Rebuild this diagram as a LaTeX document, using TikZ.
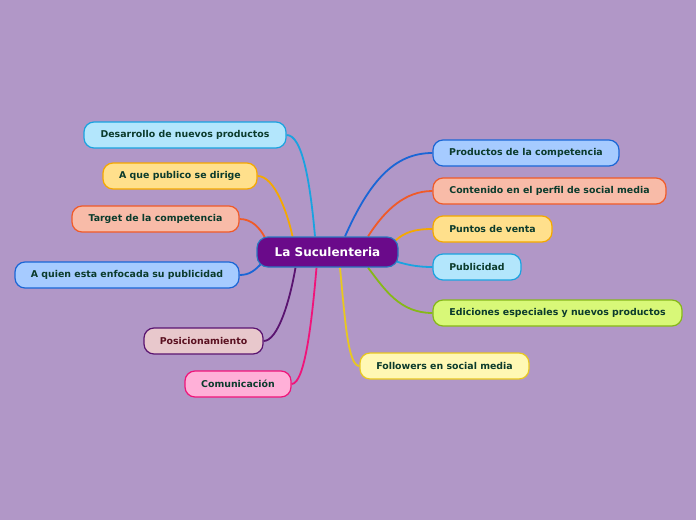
\documentclass[tikz,border=0pt]{standalone}
\usepackage{fontspec}
\setmainfont{DejaVu Sans}
\usetikzlibrary{calc,backgrounds}
\definecolor{bg}{HTML}{B197C7}
\definecolor{txt}{HTML}{0B3B2C}
\definecolor{cyanF}{HTML}{B3E6FC}\definecolor{cyanD}{HTML}{1AA3E0}
\definecolor{orF}{HTML}{FFE08C}\definecolor{orD}{HTML}{F5A800}
\definecolor{redF}{HTML}{F8BBA8}\definecolor{redD}{HTML}{F05A28}
\definecolor{bluF}{HTML}{A6CBFF}\definecolor{bluD}{HTML}{1A66D6}
\definecolor{purF}{HTML}{E8C8CC}\definecolor{purD}{HTML}{5A1470}\definecolor{purT}{HTML}{5A1020}
\definecolor{pnkF}{HTML}{FFB0D8}\definecolor{pnkD}{HTML}{F0147A}
\definecolor{grnF}{HTML}{D8F878}\definecolor{grnD}{HTML}{86B818}
\definecolor{yelF}{HTML}{FFF8B4}\definecolor{yelD}{HTML}{E8C820}
\definecolor{cenF}{HTML}{6A0A8A}\definecolor{cenD}{HTML}{2A78C0}
\tikzset{
  topic/.style={draw=#1D, fill=#1F, line width=1.2pt, rounded corners=10pt,
    minimum height=26pt, inner sep=0pt, text=txt,
    font=\fontsize{9.4}{11}\selectfont\bfseries},
  conn/.style={line width=1.8pt, draw=#1D},
  central/.style={draw=cenD, fill=cenF, line width=1.2pt, rounded corners=11pt,
    minimum width=141pt, minimum height=30pt, inner sep=0pt, text=white,
    font=\fontsize{12}{14}\selectfont\bfseries}
}
\begin{document}
\begin{tikzpicture}[x=1pt,y=-1pt]
\useasboundingbox (0,0) rectangle (696,520);
% central
\node[central] (c) at (327.5,252) {La Suculenteria};
% left
\node[topic=cyan, minimum width=202pt] (d1) at (185,135) {Desarrollo de nuevos productos};
\node[topic=or, minimum width=154pt] (d2) at (180,176) {A que publico se dirige};
\node[topic=red, minimum width=167pt] (d3) at (155.5,219) {Target de la competencia};
\node[topic=blu, minimum width=224pt] (d4) at (127,275) {A quien esta enfocada su publicidad};
\node[topic=pur, minimum width=119pt, text=purT] (d5) at (203.5,341) {Posicionamiento};
\node[topic=pnk, minimum width=106pt] (d6) at (238,384) {Comunicación};
% right
\node[topic=blu, minimum width=186pt] (e1) at (526,153) {Productos de la competencia};
\node[topic=red, minimum width=233pt] (e2) at (549.5,191) {Contenido en el perfil de social media};
\node[topic=or, minimum width=119pt] (e3) at (492.5,229) {Puntos de venta};
\node[topic=cyan, minimum width=88pt] (e4) at (477,267) {Publicidad};
\node[topic=grn, minimum width=249pt] (e5) at (557.5,313) {Ediciones especiales y nuevos productos};
\node[topic=yel, minimum width=169pt] (e6) at (444.5,366) {Followers en social media};
\begin{scope}[on background layer]
\fill[bg] (0,0) rectangle (696,520);
\draw[conn=cyan] (d1.east) .. controls (302,135) and (310,180) .. ($(c.north)+(-12.5,0)$);
\draw[conn=or] (d2.east) .. controls (275,176) and (288,215) .. ($(c.north)+(-35,0)$);
\draw[conn=red] (d3.east) .. controls (252,219) and (260,228) .. ($(c.north west)+(9,2)$);
\draw[conn=blu] (d4.east) .. controls (250,275) and (255,270) .. ($(c.south west)+(5,-4)$);
\draw[conn=pur] (d5.east) .. controls (278,341) and (290,300) .. ($(c.south)+(-32,0)$);
\draw[conn=pnk] (d6.east) .. controls (305,384) and (312,320) .. ($(c.south)+(-11,0)$);
\draw[conn=blu] (e1.west) .. controls (395,153) and (370,180) .. ($(c.north)+(17.5,0)$);
\draw[conn=red] (e2.west) .. controls (405,191) and (385,210) .. ($(c.north)+(40.5,0)$);
\draw[conn=or] (e3.west) .. controls (415,229) and (405,232) .. ($(c.north east)+(-3,4)$);
\draw[conn=cyan] (e4.west) .. controls (415,267) and (405,264) .. ($(c.south east)+(-2,-6)$);
\draw[conn=grn] (e5.west) .. controls (400,313) and (385,290) .. ($(c.south)+(40.5,0)$);
\draw[conn=yel] (e6.west) .. controls (348,366) and (345,320) .. ($(c.south)+(12.5,0)$);
\end{scope}
\end{tikzpicture}
\end{document}
